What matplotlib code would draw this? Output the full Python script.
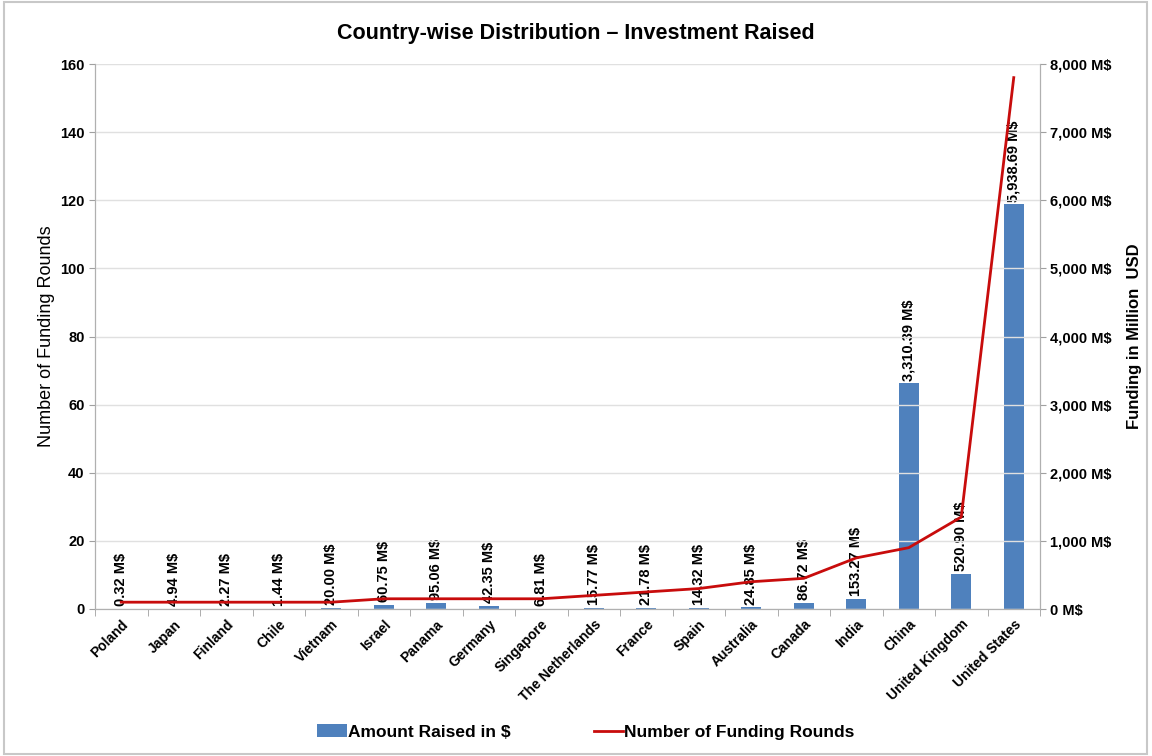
import numpy as np
import matplotlib.pyplot as plt

plt.rcParams['font.family'] = ['Liberation Sans', 'DejaVu Sans']

countries = ["Poland", "Japan", "Finland", "Chile", "Vietnam", "Israel", "Panama",
             "Germany", "Singapore", "The Netherlands", "France", "Spain", "Australia",
             "Canada", "India", "China", "United Kingdom", "United States"]
amount_musd = [0.32, 4.94, 2.27, 1.44, 20.00, 60.75, 95.06, 42.35, 6.81, 15.77,
               21.78, 14.32, 24.85, 86.72, 153.27, 3310.39, 520.90, 5938.69]
rounds = [2, 2, 2, 2, 2, 3, 3, 3, 3, 4, 5, 6, 8, 9, 15, 18, 27, 156]

bar_color = "#4F81BD"
line_color = "#C80C0C"

fig = plt.figure(figsize=(11.52, 7.56), dpi=100)
ax = fig.add_axes([95 / 1152, 1 - 609 / 756, 945 / 1152, 545 / 756])
ax2 = ax.twinx()

x = np.arange(len(countries))

# bars on the right axis, line on the left axis
bars = ax2.bar(x, amount_musd, width=0.38, color=bar_color, zorder=2,
               label="Amount Raised in $")
ln, = ax.plot(x, rounds, color=line_color, lw=2, zorder=5,
              label="Number of Funding Rounds")
ax.set_zorder(ax2.get_zorder() + 1)
ax.patch.set_visible(False)

for xi, v in zip(x, amount_musd):
    ax2.annotate(f"{v:,.2f} M$", (xi, v), xytext=(0, 2), textcoords="offset points",
                 rotation=90, ha="center", va="bottom", fontsize=10.5, fontweight="bold")

ax.set_xlim(-0.5, len(countries) - 0.5)
ax.set_ylim(0, 160)
ax.set_yticks(np.arange(0, 161, 20))
ax2.set_ylim(0, 8000)
ax2.set_yticks(np.arange(0, 8001, 1000))
ax2.set_yticklabels([f"{int(t):,} M$" for t in np.arange(0, 8001, 1000)])

ax.yaxis.grid(True, color="#E0E0E0", lw=1)
ax.set_axisbelow(True)

ax.set_xticks(x)
ax.set_xticklabels(countries, rotation=45, ha="right", rotation_mode="anchor",
                   fontsize=10, fontweight="bold")
ax.set_xticks(np.arange(-0.5, len(countries), 1), minor=True)
ax.tick_params(axis="x", which="major", length=0, pad=6)
ax.tick_params(axis="x", which="minor", length=5, color="#A0A0A0")
ax.tick_params(axis="y", labelsize=10.5, length=4, color="#A0A0A0")
ax2.tick_params(axis="y", labelsize=10.5, length=4, color="#A0A0A0")
for lab in ax.get_yticklabels() + ax2.get_yticklabels():
    lab.set_fontweight("bold")

for a in (ax, ax2):
    a.spines["top"].set_visible(False)
    for s in ("left", "right", "bottom"):
        a.spines[s].set_color("#B0B0B0")

ax.set_ylabel("Number of Funding Rounds", fontsize=13, labelpad=4)
ax2.set_ylabel("Funding in Million  USD", fontsize=12, fontweight="bold", labelpad=11)

fig.suptitle("Country-wise Distribution \u2013 Investment Raised", fontsize=15.5,
             fontweight="bold", y=1 - 33 / 756, va="center")

leg = fig.legend([bars, ln], ["Amount Raised in $", "Number of Funding Rounds"],
                 loc="center", bbox_to_anchor=(586 / 1152, 1 - 732 / 756), ncol=2,
                 frameon=False, handlelength=1.7, handletextpad=0.05,
                 columnspacing=4.8, prop={"weight": "bold", "size": 12.5})

# chart frame
fig.patches.append(plt.Rectangle((4 / 1152, 2 / 756), 1143 / 1152, 752 / 756,
                                 transform=fig.transFigure, fill=False,
                                 edgecolor="#C8C8C8", lw=1.5))

fig.savefig("out.png", dpi=100)
